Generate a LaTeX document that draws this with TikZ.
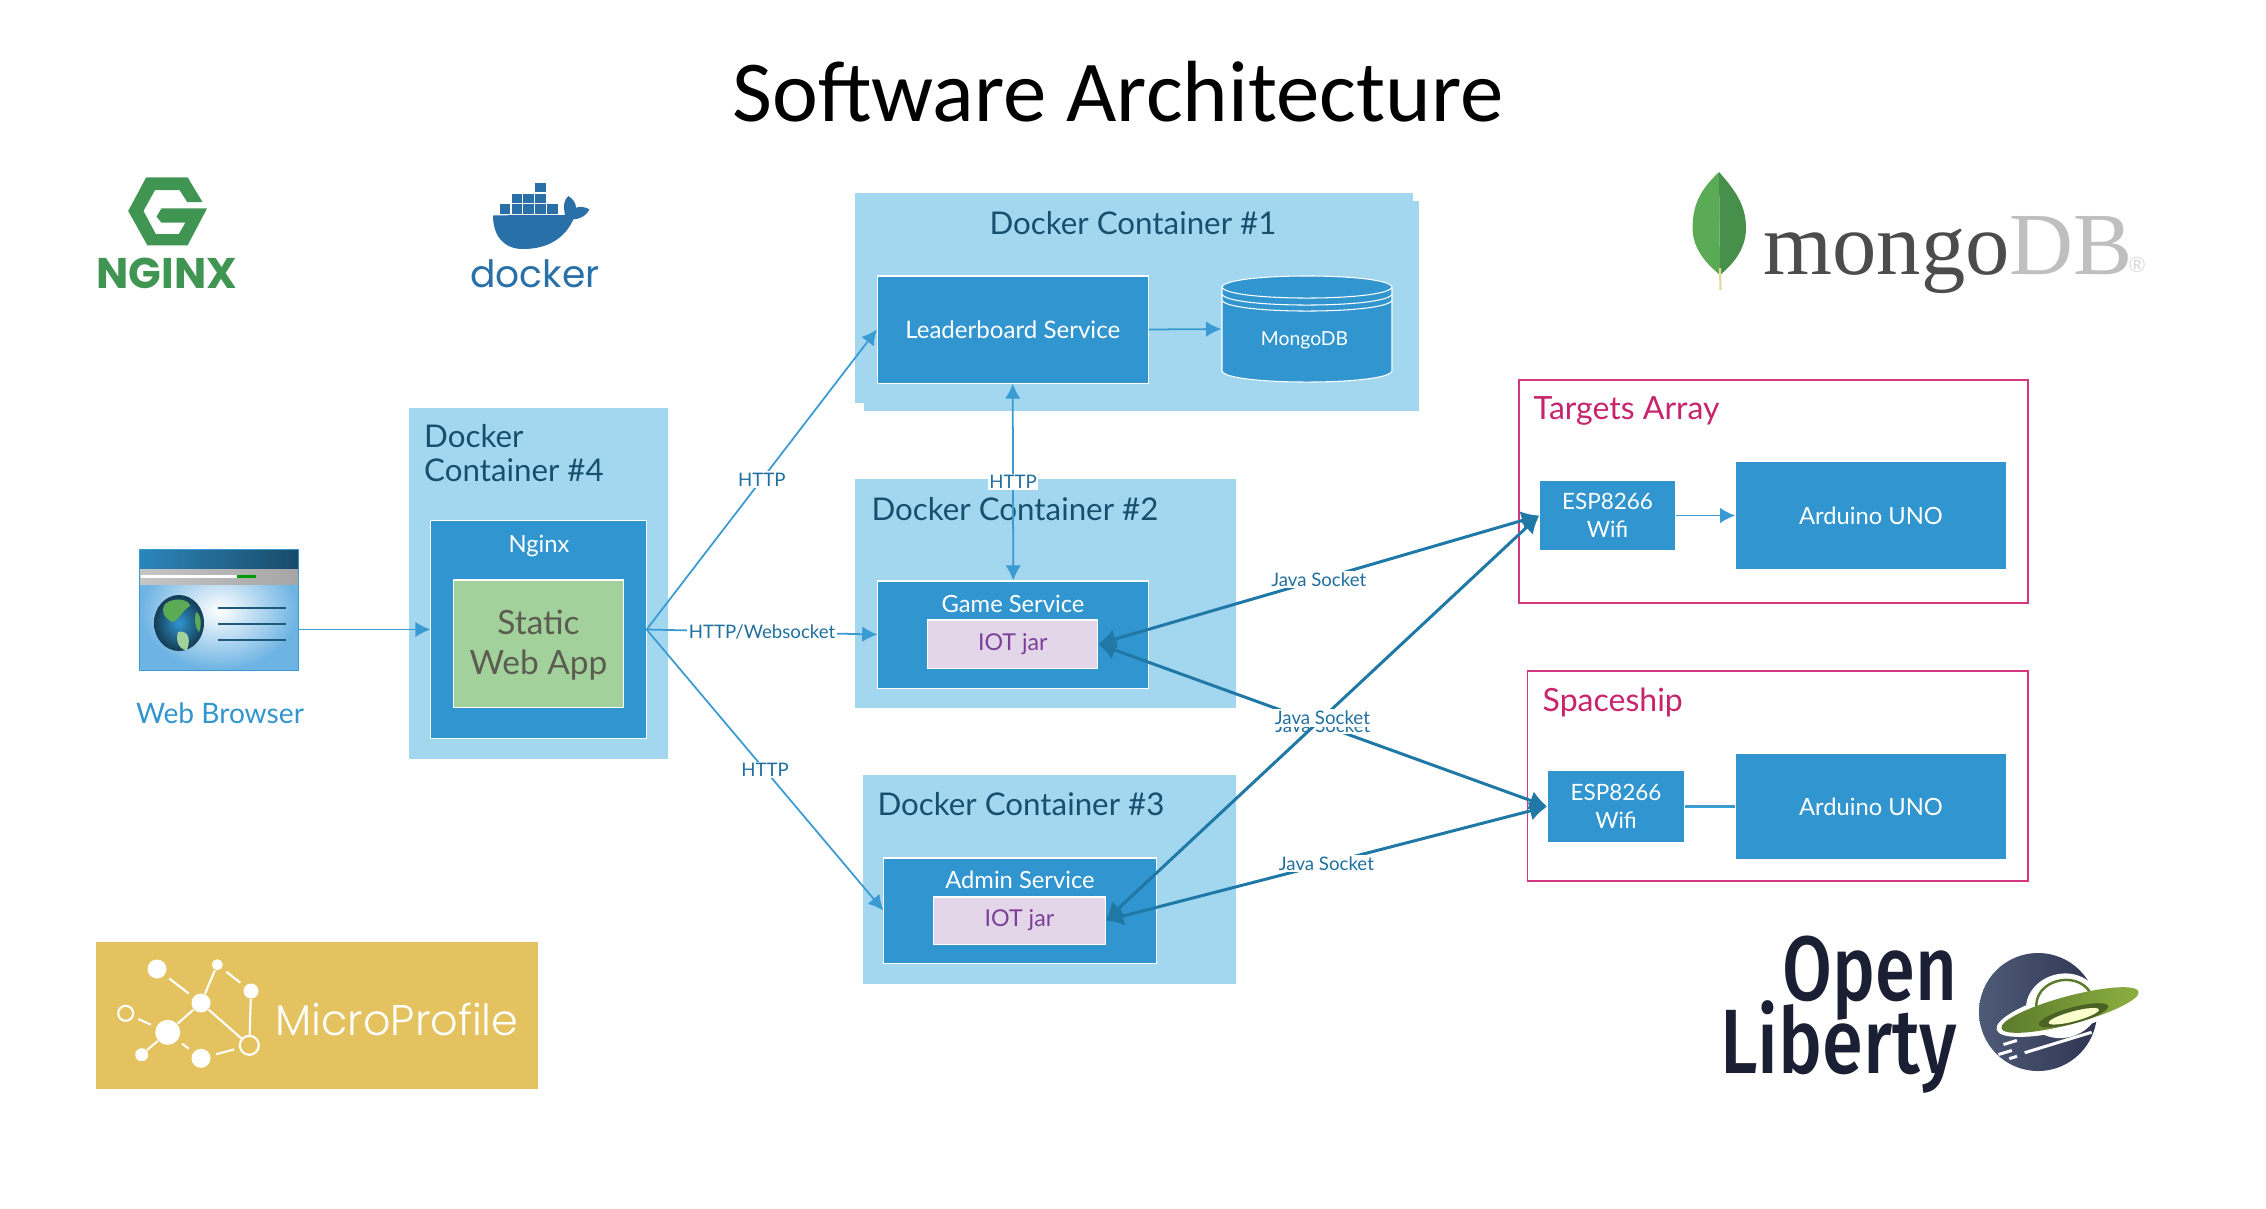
\documentclass[tikz,border=0pt]{standalone}
\usepackage{fontspec}
\usepackage{graphicx}
\usetikzlibrary{arrows.meta}
\setmainfont{Lato}
\newfontfamily\titlefont{Carlito}
\newfontfamily\popfont{Poppins}
\newfontfamily\poplight{Poppins Light}
\newfontfamily\firafont{Fira Sans Medium}
\newfontfamily\serfont{Liberation Serif}
\definecolor{contblue}{HTML}{A3D6EF}
\definecolor{boxblue}{HTML}{3195CF}
\definecolor{linkblue}{HTML}{3A9AD2}
\definecolor{sockblue}{HTML}{1F78A6}
\definecolor{conttext}{HTML}{174F6E}
\definecolor{labtext}{HTML}{1F6F9F}
\definecolor{iotfill}{HTML}{E2D6E8}
\definecolor{iottext}{HTML}{7D3F98}
\definecolor{appgreen}{HTML}{A2D19B}
\definecolor{apptext}{HTML}{5C5C50}
\definecolor{pinkline}{HTML}{D2387F}
\definecolor{pinktext}{HTML}{C7246E}
\definecolor{ngxgreen}{HTML}{419553}
\definecolor{dockblue}{HTML}{2A70A8}
\definecolor{mpgold}{HTML}{E3C25F}
\definecolor{libdark}{HTML}{1B1F33}
\definecolor{leaflight}{HTML}{5BAA55}
\definecolor{leafdark}{HTML}{47904C}
\definecolor{ufodark}{HTML}{5B7A2C}
\definecolor{ufolight}{HTML}{8DB040}
\definecolor{planetlight}{HTML}{4E5B78}
\definecolor{planetdark}{HTML}{2F3552}
\definecolor{skyblue}{HTML}{6DB3E3}
\tikzset{
  container/.style={fill=contblue,inner sep=0},
  svcbox/.style={fill=boxblue,draw=white,line width=.3pt,inner sep=0,text=white,align=center,font=\fontsize{6.85}{8.5}\selectfont},
  svctext/.style={inner sep=0,text=white,font=\fontsize{6.75}{8.5}\selectfont},
  iotbox/.style={fill=iotfill,draw=white,line width=.3pt,inner sep=0,text=iottext,font=\fontsize{6.6}{8}\selectfont},
  devbox/.style={fill=boxblue,inner sep=0,text=white,align=center,font=\fontsize{6.4}{7.9}\selectfont},
  unobox/.style={devbox,font=\fontsize{6.75}{8}\selectfont},
  devframe/.style={draw=pinkline,line width=.45pt,inner sep=0},
  conttitle/.style={text=conttext,inner sep=0,font=\fontsize{8.9}{9.9}\selectfont},
  devtitle/.style={text=pinktext,inner sep=0,font=\fontsize{9.1}{10}\selectfont},
  lbl/.style={fill=white,text=labtext,inner sep=.5pt,font=\fontsize{5.3}{6}\selectfont},
  httplink/.style={draw=linkblue,line width=.5pt},
  socklink/.style={draw=sockblue,line width=.85pt,{Latex[length=5pt,width=5.5pt]}-{Latex[length=5pt,width=5.5pt]}},
  netdot/.style={circle,fill=white,inner sep=0},
  netring/.style={circle,draw=white,line width=.6pt,inner sep=0},
  netline/.style={draw=white,line width=.6pt},
}
\begin{document}
\begin{tikzpicture}[>={Latex[length=4.3pt,width=4.4pt]},x=.01cm,y=-.01cm]
\useasboundingbox (0,0) rectangle (2266,1208);

\node[inner sep=0,font=\titlefont\fontsize{24.7}{28}\selectfont] (title) at (1118,92) {Software Architecture};

\fill[contblue] (864,201) rectangle (1419,411);
\node[container,minimum width=5.575cm,minimum height=2.1cm] (cont1) at (1134.25,298) {};
\node[conttitle] (cont1t) at (1133,223) {Docker Container \#1};
\node[container,minimum width=3.805cm,minimum height=2.29cm] (cont2) at (1045.75,593.5) {};
\node[conttitle] (cont2t) at (1015,509) {Docker Container \#2};
\node[container,minimum width=3.73cm,minimum height=2.09cm] (cont3) at (1049.5,879.5) {};
\node[conttitle] (cont3t) at (1021,804) {Docker Container \#3};
\node[container,minimum width=2.59cm,minimum height=3.51cm] (cont4) at (538.5,583.5) {};
\node[conttitle,anchor=west,align=left] (cont4t) at (423.5,453) {Docker\\Container \#4};

\node[svcbox,minimum width=2.15cm,minimum height=2.17cm] (nginx) at (538.5,629.5) {};
\node[svctext] (nginxt) at (539,546) {Nginx};
\node[svcbox,fill=appgreen,minimum width=1.69cm,minimum height=1.27cm] (webapp) at (538.5,643.5) {};
\node[inner sep=0,text=apptext,align=center,font=\fontsize{9.5}{11.2}\selectfont] (webappt) at (538.5,645) {Static\\Web App};

\node[svcbox,minimum width=2.705cm,minimum height=1.07cm] (leader) at (1012.75,329.5) {Leaderboard Service};
\filldraw[fill=boxblue,draw=white,line width=.3pt] (1222,287) .. controls (1226,272.3) and (1388,272.3) .. (1392,287) -- (1392,371) .. controls (1388,385.7) and (1226,385.7) .. (1222,371) -- cycle;
\foreach \y in {287,294,300}
{
    \draw[white,line width=.3pt] (1222,\y) .. controls (1226,\y+14.7) and (1388,\y+14.7) .. (1392,\y);
}
\node[inner sep=0,minimum width=1.7cm,minimum height=1.06cm] (mongo) at (1307,329) {};
\node[inner sep=0,text=white,font=\fontsize{5.5}{7}\selectfont] (mongot) at (1304.5,340) {MongoDB};

\node[svcbox,minimum width=2.705cm,minimum height=1.07cm] (game) at (1013.25,634.5) {};
\node[svctext] (gamet) at (1013,603.5) {Game Service};
\node[iotbox,minimum width=1.696cm,minimum height=.48cm] (iot1) at (1012.8,644) {IOT jar};
\node[svcbox,minimum width=2.72cm,minimum height=1.05cm] (admin) at (1020,910.5) {};
\node[svctext] (admint) at (1020,879.5) {Admin Service};
\node[iotbox,minimum width=1.71cm,minimum height=.47cm] (iot2) at (1019.5,920.5) {IOT jar};

\node[devframe,minimum width=5.09cm,minimum height=2.23cm] (targets) at (1773.5,491.5) {};
\node[devtitle,anchor=west] (targetst) at (1533,411) {Targets Array};
\node[devbox,minimum width=1.35cm,minimum height=.69cm] (esp1) at (1607.5,515.5) {ESP8266\\Wifi};
\node[unobox,minimum width=2.7cm,minimum height=1.07cm] (uno1) at (1871,515.5) {Arduino UNO};
\node[devframe,minimum width=5.005cm,minimum height=2.1cm] (spaceship) at (1777.75,776) {};
\node[devtitle,anchor=west] (spaceshipt) at (1542,702) {Spaceship};
\node[devbox,minimum width=1.36cm,minimum height=.71cm] (esp2) at (1616,806.5) {ESP8266\\Wifi};
\node[unobox,minimum width=2.7cm,minimum height=1.05cm] (uno2) at (1871,806.5) {Arduino UNO};

\node[shade,rectangle,inner color=white,outer color=skyblue,draw=linkblue,line width=.3pt,inner sep=0,minimum width=1.58cm,minimum height=1.2cm] (browser) at (219,610) {};
\shade[left color=boxblue!90!black,right color=boxblue!50!black] (140,550) rectangle (298,569);
\shade[left color=gray!45,right color=gray!70] (140,569) rectangle (298,584);
\fill[white] (141,575) rectangle (237,578);
\fill[green!60!black] (237,575) rectangle (255.6,578);
\shade[inner color=boxblue,outer color=boxblue!40!black] (179,623) ellipse (25 and 28);
\fill[leaflight] (165,604) .. controls (175,596) and (190,600) .. (190,606) .. controls (180,612) and (180,620) .. (172,622) .. controls (165,618) and (160,612) .. (165,604) -- cycle;
\fill[appgreen] (178,632) .. controls (186,630) and (192,636) .. (187,650) .. controls (180,650) and (175,642) .. (178,632) -- cycle;
\fill[leaflight] (196,612) .. controls (201,614) and (202,625) .. (199,632) .. controls (195,628) and (194,620) .. (196,612) -- cycle;
\foreach \y in {608,624,640}
{
    \draw[boxblue!60!black,line width=.6pt] (218,\y)--(286,\y);
}
\node[inner sep=0,text=boxblue,font=\fontsize{8}{9.6}\selectfont] (browsert) at (220,713) {Web Browser};

\draw[httplink,->] (browser.east |- nginx.west)--(nginx.west);
\draw[httplink,->] (nginx.east)--node[lbl] (http1) {HTTP}(leader.west);
\draw[httplink,->] (nginx.east)--node[lbl] (httpws) {HTTP/Websocket}(game.west);
\draw[httplink,->] (nginx.east)--node[lbl] (http3) {HTTP}(admin.west);
\draw[httplink,<->] (game.north)--node[lbl] (http2) {HTTP}(leader.south);
\draw[httplink,->] (leader.east)--(mongo.west);
\draw[httplink,->] (esp1.east)--(uno1.west);
\draw[httplink,line width=.7pt] (esp2.east)--(uno2.west);

\draw[socklink] (iot1.east)--node[lbl] (java1) {Java Socket}(esp1.west);
\draw[socklink] (iot1.east)--node[lbl] (java2) {Java Socket}(esp2.west);
\draw[socklink] (iot2.east)--node[lbl] (java3) {Java Socket}(esp1.west);
\draw[socklink] (iot2.east)--node[lbl] (java4) {Java Socket}(esp2.west);

\fill[ngxgreen] (146.2,177.3)--(187.6,177.3)--(202.5,202)--(187.2,202)--(179.5,190)--(155,190)--(143.5,211)--(155.8,234)--(178.8,234)--(185.3,222.7)--(161.5,222.7)--(156.6,216.7)--(161.5,208.3)--(207.1,208.3)--(187.6,245.3)--(147.4,245.3)--(128.2,211)--cycle;
\node[inner sep=0,text=ngxgreen,font=\popfont\bfseries\fontsize{12.2}{14}\selectfont] (ngxt) at (167,273) {NGINX};

\fill[dockblue] (493,215.3)--(565,215) .. controls (563,205) and (564,200) .. (568.4,196) .. controls (573,199) and (576,203) .. (576,207.7) .. controls (580,206) and (585,207) .. (589.5,209.3) .. controls (587,215) and (581,219) .. (573.4,219.3) .. controls (565,238) and (548,249) .. (523,249) .. controls (503,249) and (493,235) .. (493,215.3) -- cycle;
\foreach \x in {0,1,2,3,4}
{
    \fill[dockblue] (499.8+\x*11.8,204.3) rectangle +(10.6,9.4);
}
\foreach \x in {1,2,3}
{
    \fill[dockblue] (499.8+\x*11.8,193.6) rectangle +(10.6,9.4);
}
\fill[dockblue] (535.2,182.9) rectangle +(10.6,9.4);
\node[inner sep=0,text=dockblue,font=\popfont\fontsize{10.7}{13}\selectfont] (dockt) at (535,274) {docker};

\fill[leaflight] (1719,172) .. controls (1700,190) and (1692.6,205) .. (1692.6,228) .. controls (1692.6,250) and (1708,265) .. (1720,275) -- cycle;
\fill[leafdark] (1719,172) .. controls (1735,190) and (1746,205) .. (1746,228) .. controls (1746,250) and (1732,265) .. (1720,275) -- cycle;
\draw[gray!50!yellow!60!white,line width=.6pt] (1720,268)--(1720.5,290);
\node[anchor=base west,inner sep=0,text=black!70,font=\serfont\fontsize{25.2}{28}\selectfont] (mongol) at (1763,274) {mongo\textcolor{black!25}{DB}};
\node[inner sep=0,text=black!15,font=\fontsize{6}{7}\selectfont] (mongor) at (2137,265) {\textregistered};

\node[container,fill=mpgold,minimum width=4.417cm,minimum height=1.476cm] (mpbox) at (316.85,1015.5) {};
\node[netdot,minimum size=.19cm] (na) at (157,969) {};
\node[netdot,minimum size=.11cm] (nb) at (217.3,964.7) {};
\node[netdot,minimum size=.15cm] (nc) at (251,991) {};
\node[netdot,minimum size=.19cm] (nd) at (201,1003) {};
\node[netring,minimum size=.15cm] (ne) at (125.7,1013.3) {};
\node[netdot,minimum size=.25cm] (nf) at (167.7,1032.3) {};
\node[netdot,minimum size=.13cm] (ng) at (141.7,1054.7) {};
\node[netdot,minimum size=.19cm] (nh) at (201,1058.3) {};
\node[netring,minimum size=.19cm] (ni) at (249.3,1045.3) {};
\foreach \a/\b in {nd/nb,nd/nf,nd/ni,nc/ni,nf/ng}
{
    \draw[netline] (\a)--(\b);
}
\foreach \a/\b in {na/nd,nb/nc,ne/nf,nf/nh,nh/ni}
{
    \draw[netline,shorten <=1.5pt,shorten >=1.5pt] (\a)--(\b);
}
\node[inner sep=0,text=white,font=\poplight\fontsize{12.2}{14}\selectfont] (mpt) at (397,1019) {MicroProfile};

\shade[left color=planetlight,right color=planetdark] (2038,1012) circle (59);
\begin{scope}[shift={(2070,1010)},rotate=15]
\fill[white] (-6,-6) ellipse (37 and 32);
\fill[white] (0,0) ellipse (76 and 19);
\draw[ufodark,line width=.7pt] (-32,-10) .. controls (-28,-38) and (16,-38) .. (24,-12);
\shade[left color=ufodark,right color=ufolight] (0,0) ellipse (71 and 14);
\fill[ufodark!80!black] (2,6) ellipse (36 and 8);
\fill[green!10!yellow!20!white] (2,7) ellipse (26 and 5);
\end{scope}
\fill[white,rotate around={17:(2058,1042)}] (2023,1041) rectangle (2093,1044);
\fill[white,rotate around={17:(2010,1042)}] (2003,1041) rectangle (2017,1044);
\fill[white,rotate around={17:(2005,1052)}] (1998,1051) rectangle (2012,1054);
\fill[white,rotate around={17:(2013,1057)}] (2009,1056) rectangle (2017,1059);
\node[anchor=base east,inner sep=0,text=libdark,font=\firafont\fontsize{26}{30}\selectfont] (opent) at (1958,1000) {\scalebox{.79}[1]{Open}};
\node[anchor=base east,inner sep=0,text=libdark,font=\firafont\fontsize{26}{30}\selectfont] (libt) at (1958,1073) {\scalebox{.81}[1]{Liberty}};
\end{tikzpicture}
\end{document}
